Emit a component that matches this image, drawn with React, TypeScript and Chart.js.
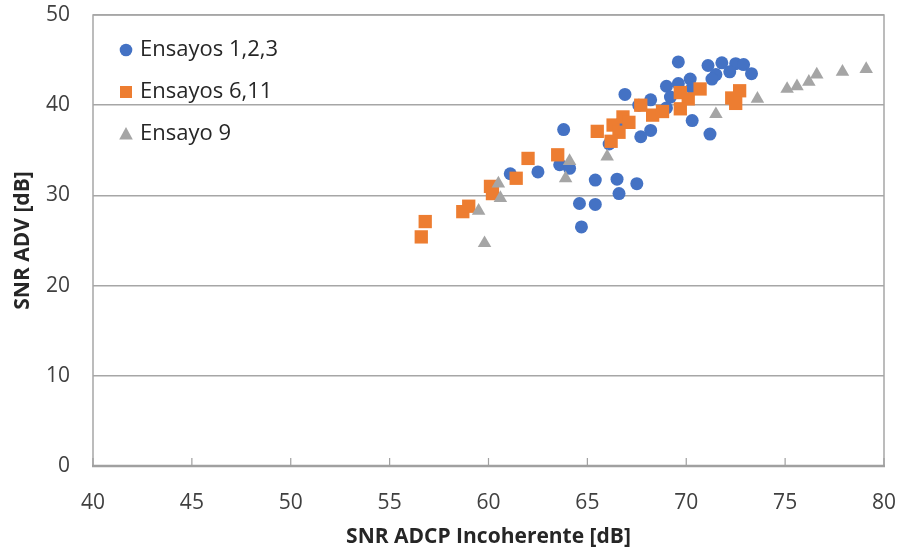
import { useEffect, useRef } from "react";
import { Chart, registerables } from "chart.js";

Chart.register(...registerables);

// SNR measured with the ADCP (incoherent) vs. SNR measured with the ADV, per test group
const ensayos123: [number, number][] = [
  [63.8, 37.3], [63.6, 33.4], [64.1, 33.0], [61.1, 32.4], [62.5, 32.6],
  [65.4, 31.7], [66.5, 31.8], [67.5, 31.3], [66.6, 30.2], [64.6, 29.1],
  [65.4, 29.0], [64.7, 26.5], [66.9, 41.2], [69.6, 44.8], [71.1, 44.4],
  [71.8, 44.7], [72.5, 44.6], [72.9, 44.5], [72.2, 43.7], [73.3, 43.5],
  [71.5, 43.4], [71.3, 42.9], [70.2, 42.9], [70.3, 41.9], [69.0, 42.1],
  [69.6, 42.4], [68.2, 40.6], [69.2, 40.9], [69.0, 39.7], [70.3, 38.3],
  [71.2, 36.8], [68.2, 37.2], [67.7, 36.5], [66.1, 35.7], [66.7, 38.0],
  [67.6, 40.0],
];

const ensayos611: [number, number][] = [
  [56.6, 25.4], [56.8, 27.1], [58.7, 28.2], [59.0, 28.8], [60.1, 31.0],
  [60.2, 30.2], [61.4, 31.9], [62.0, 34.1], [63.5, 34.5], [65.5, 37.1],
  [66.3, 37.8], [66.8, 38.7], [67.1, 38.1], [66.6, 37.0], [66.2, 36.0],
  [67.7, 40.0], [68.3, 38.9], [68.8, 39.3], [69.7, 41.4], [70.1, 40.7],
  [69.7, 39.6], [70.7, 41.8], [72.3, 40.8], [72.7, 41.6], [72.5, 40.2],
];

const ensayo9: [number, number][] = [
  [59.8, 24.7], [59.5, 28.3], [60.6, 29.7], [60.5, 31.3], [63.9, 31.9],
  [64.1, 33.8], [66.0, 34.3], [71.5, 39.0], [73.6, 40.7], [75.1, 41.8],
  [75.6, 42.1], [76.2, 42.6], [76.6, 43.4], [77.9, 43.7], [79.1, 44.0],
];

const seriesLabels = ["Ensayos 1,2,3", "Ensayos 6,11", "Ensayo 9"];
const xTicks = [40, 45, 50, 55, 60, 65, 70, 75, 80];
const yTicks = [0, 10, 20, 30, 40, 50];
const xTitle = "SNR ADCP Incoherente [dB]";
const yTitle = "SNR ADV [dB]";

const FONT = "'Open Sans', sans-serif";
const GRID = "#a6a6a6";

type Style = "circle" | "rect" | "triangle";

function marker(ctx: CanvasRenderingContext2D, style: Style, x: number, y: number, color: string) {
  ctx.fillStyle = color;
  ctx.beginPath();
  if (style === "circle") {
    ctx.arc(x, y, 6.3, 0, Math.PI * 2);
  } else if (style === "rect") {
    ctx.rect(x - 6, y - 6, 12, 12);
  } else {
    ctx.moveTo(x, y - 7);
    ctx.lineTo(x + 6.8, y + 5.5);
    ctx.lineTo(x - 6.8, y + 5.5);
    ctx.closePath();
  }
  ctx.fill();
}

// plot frame, x axis line and the inward tick marks
const framePlugin = {
  id: "frame",
  beforeDatasetsDraw(chart: any) {
    const { ctx, chartArea, scales } = chart;
    const { left, right, top, bottom } = chartArea;
    ctx.save();
    ctx.strokeStyle = GRID;
    ctx.lineWidth = 1.5;
    ctx.beginPath();
    ctx.moveTo(left, bottom);
    ctx.lineTo(left, top);
    ctx.lineTo(right, top);
    ctx.lineTo(right, bottom);
    ctx.stroke();
    ctx.strokeStyle = "#a0a0a0";
    ctx.lineWidth = 2.5;
    ctx.beginPath();
    ctx.moveTo(left - 1, bottom);
    ctx.lineTo(right + 1, bottom);
    ctx.stroke();
    ctx.lineWidth = 1.2;
    ctx.beginPath();
    for (const v of xTicks) {
      const px = scales.x.getPixelForValue(v);
      ctx.moveTo(px, bottom);
      ctx.lineTo(px, bottom - 8);
    }
    ctx.stroke();
    ctx.restore();
  },
};

// legend drawn inside the plot area, top-left
const legendPlugin = {
  id: "insideLegend",
  afterDraw(chart: any) {
    const { ctx, chartArea } = chart;
    const x0 = chartArea.left + 33;
    const y0 = chartArea.top + 35;
    const rowGap = 42;
    ctx.save();
    ctx.font = `22px ${FONT}`;
    ctx.textBaseline = "middle";
    ctx.textAlign = "left";
    chart.data.datasets.forEach((ds: any, i: number) => {
      const y = y0 + i * rowGap;
      marker(ctx, ds.pointStyle, x0, y, ds.backgroundColor);
      ctx.fillStyle = "#262626";
      ctx.fillText(ds.label, x0 + 14, y);
    });
    ctx.restore();
  },
};

// keep label overhang from shrinking the plot area; the layout padding sets it
function clearPadding(scale: any) {
  scale.paddingLeft = 0;
  scale.paddingRight = 0;
  scale.paddingTop = 0;
  scale.paddingBottom = 0;
}

export default function App() {
  const canvasRef = useRef<HTMLCanvasElement | null>(null);

  useEffect(() => {
    const canvas = canvasRef.current;
    if (!canvas) return;
    const toPoints = (arr: [number, number][]) => arr.map(([x, y]) => ({ x, y }));
    const chart = new Chart(canvas, {
      type: "scatter",
      data: {
        datasets: [
          {
            label: seriesLabels[0],
            data: toPoints(ensayos123),
            backgroundColor: "#4472c4",
            borderColor: "#4472c4",
            pointStyle: "circle",
            pointRadius: 6.5,
            pointBorderWidth: 0,
            order: 3,
          },
          {
            label: seriesLabels[1],
            data: toPoints(ensayos611),
            backgroundColor: "#ed7d31",
            borderColor: "#ed7d31",
            pointStyle: "rect",
            pointRadius: 9.4,
            pointBorderWidth: 0,
            order: 2,
          },
          {
            label: seriesLabels[2],
            data: toPoints(ensayo9),
            backgroundColor: "#a5a5a5",
            borderColor: "#a5a5a5",
            pointStyle: "triangle",
            pointRadius: 7.8,
            pointBorderWidth: 0,
            order: 1,
          },
        ],
      },
      options: {
        responsive: false,
        animation: false,
        events: [],
        layout: { padding: { left: 0, right: 21, top: 15, bottom: 0 } },
        plugins: {
          legend: { display: false },
          tooltip: { enabled: false },
        },
        scales: {
          x: {
            type: "linear",
            min: xTicks[0],
            max: xTicks[xTicks.length - 1],
            afterBuildTicks: (scale: any) => {
              scale.ticks = xTicks.map((v) => ({ value: v }));
            },
            afterFit: (scale: any) => {
              scale.height = 88;
              clearPadding(scale);
            },
            grid: { display: false, drawTicks: false },
            border: { display: false },
            ticks: {
              padding: 24,
              color: "#404040",
              font: { family: FONT, size: 21 },
            },
            title: {
              display: true,
              text: xTitle,
              color: "#262626",
              font: { family: FONT, size: 21, weight: "bold" },
              padding: { top: 0, bottom: 4 },
            },
          },
          y: {
            type: "linear",
            min: yTicks[0],
            max: yTicks[yTicks.length - 1],
            afterBuildTicks: (scale: any) => {
              scale.ticks = yTicks.map((v) => ({ value: v }));
            },
            afterFit: (scale: any) => {
              scale.width = 93;
              clearPadding(scale);
            },
            grid: { color: GRID, lineWidth: 1.5, drawTicks: false },
            border: { display: false },
            ticks: {
              padding: 23,
              color: "#404040",
              font: { family: FONT, size: 21 },
            },
            title: {
              display: true,
              text: yTitle,
              color: "#262626",
              font: { family: FONT, size: 21, weight: "bold" },
              padding: { top: 10, bottom: 0 },
            },
          },
        },
      },
      plugins: [framePlugin, legendPlugin],
    } as any);
    return () => chart.destroy();
  }, []);

  return (
    <div style={{ position: "absolute", left: 0, top: 0, width: 905, height: 554, background: "#fff" }}>
      <canvas ref={canvasRef} width={905} height={554} />
    </div>
  );
}
